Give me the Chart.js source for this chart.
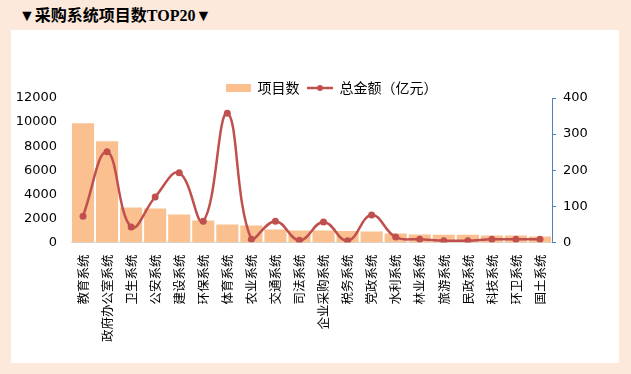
<!DOCTYPE html>
<html>
<head>
<meta charset="utf-8">
<script src="https://cdn.jsdelivr.net/npm/chart.js@4/dist/chart.umd.min.js"></script>
<style>
  html, body { margin:0; padding:0; }
  body { width:631px; height:374px; background:#fde9dc; position:relative; overflow:hidden; }
  #title { position:absolute; left:19px; top:2px; font:bold 16px "Liberation Serif","Noto Sans CJK SC",serif; color:#000; }
  #panel { position:absolute; left:11px; top:30px; width:608px; height:333px; background:#fff; }
  #myChart { position:absolute; left:0; top:0; }
</style>
</head>
<body>
<div id="title">▼采购系统项目数TOP20▼</div>
<div id="panel"><canvas id="myChart" width="608" height="333"></canvas></div>
<script>
const categories = ['教育系统','政府办公室系统','卫生系统','公安系统','建设系统','环保系统','体育系统','农业系统','交通系统','司法系统',
  '企业采购系统','税务系统','党政系统','水利系统','林业系统','旅游系统','民政系统','科技系统','环卫系统','国土系统']
const projectCounts = [9900, 8400, 2900, 2830, 2330, 1830, 1500, 1420, 1080, 1000,
  1000, 950, 920, 750, 670, 650, 650, 580, 580, 500]
const totalAmounts = [73, 251, 43, 126, 193, 59, 358, 9, 59, 6,
  57, 5, 76, 15, 9, 5, 5, 9, 9, 9]
const leftTicks = [0, 2000, 4000, 6000, 8000, 10000, 12000]
const rightTicks = [0, 50, 100, 150, 200, 250, 300, 350, 400]

const barColor = '#fac090'
const lineColor = '#c0504d'
const axisBlue = '#4f81bd'

// legend icons
const barIcon = document.createElement('canvas')
barIcon.width = 25; barIcon.height = 8
let g = barIcon.getContext('2d')
g.fillStyle = barColor; g.fillRect(0, 0, 25, 8)

const lineIcon = document.createElement('canvas')
lineIcon.width = 26; lineIcon.height = 8
g = lineIcon.getContext('2d')
g.strokeStyle = lineColor; g.lineWidth = 2.5
g.beginPath(); g.moveTo(0, 4); g.lineTo(26, 4); g.stroke()
g.fillStyle = lineColor; g.beginPath(); g.arc(13, 4, 3, 0, Math.PI * 2); g.fill()

// legend overlaps the plot top a bit and sits right of centre, like the original
const legendTweak = {
  id: 'legendTweak',
  afterInit(chart) {
    const fit = chart.legend.fit
    chart.legend.fit = function() { fit.call(this); this.height -= 7 }
    const draw = chart.legend.draw
    chart.legend.draw = function() {
      const c = this.ctx
      c.save(); c.translate(30, 0); draw.call(this); c.restore()
    }
  }
}

const ctx = document.getElementById('myChart').getContext('2d')
const chart = new Chart(ctx, {
  data: {
    labels: categories,
    datasets: [
      {
        type: 'line',
        label: '总金额（亿元）',
        data: totalAmounts,
        yAxisID: 'y1',
        borderColor: lineColor,
        backgroundColor: lineColor,
        borderWidth: 2.5,
        tension: 0.42,
        pointRadius: 3.5,
        pointBackgroundColor: lineColor,
        pointBorderWidth: 0,
        order: 0
      },
      {
        type: 'bar',
        label: '项目数',
        data: projectCounts,
        yAxisID: 'y',
        backgroundColor: barColor,
        barPercentage: 0.92,
        categoryPercentage: 1,
        order: 1
      }
    ]
  },
  plugins: [legendTweak],
  options: {
    responsive: false,
    animation: false,
    layout: { padding: { left: 3, right: 30, top: 43, bottom: 17 } },
    plugins: {
      tooltip: { enabled: false },
      legend: {
        position: 'top',
        labels: {
          usePointStyle: true,
          pointStyleWidth: 25,
          color: '#000',
          font: { family: '"Noto Sans CJK SC", sans-serif', size: 14 },
          padding: 8,
          generateLabels: (c) => [
            { text: '项目数', pointStyle: barIcon, datasetIndex: 1, fillStyle: barColor, strokeStyle: barColor, lineWidth: 0 },
            { text: '总金额（亿元）', pointStyle: lineIcon, datasetIndex: 0, fillStyle: lineColor, strokeStyle: lineColor, lineWidth: 0 }
          ]
        }
      }
    },
    scales: {
      x: {
        grid: { display: false },
        border: { color: '#d9d9d9' },
        afterFit: (axis) => { axis.paddingLeft = 0; axis.paddingRight = 0 },
        ticks: {
          minRotation: 90, maxRotation: 90, autoSkip: false,
          color: '#000', padding: 4,
          font: { family: '"Noto Sans CJK SC", sans-serif', size: 12.5 }
        }
      },
      y: {
        position: 'left',
        min: 0, max: 12000,
        afterBuildTicks: (axis) => { axis.ticks = leftTicks.map(v => ({ value: v })) },
        afterFit: (axis) => { axis.width = 57 },
        grid: { display: false, drawTicks: false },
        border: { display: false },
        ticks: { color: '#000', padding: 14, callback: (v) => String(v), font: { family: '"DejaVu Sans", sans-serif', size: 13 } }
      },
      y1: {
        position: 'right',
        min: 0, max: 400,
        afterBuildTicks: (axis) => { axis.ticks = rightTicks.map(v => ({ value: v })) },
        afterFit: (axis) => { axis.width = 37 },
        grid: { drawOnChartArea: false, color: axisBlue, tickLength: 4 },
        border: { color: axisBlue, dash: [2, 2] },
        ticks: { color: '#000', padding: 7, callback: (v) => String(v), font: { family: '"DejaVu Sans", sans-serif', size: 13 } }
      }
    }
  }
})
</script>
</body>
</html>
